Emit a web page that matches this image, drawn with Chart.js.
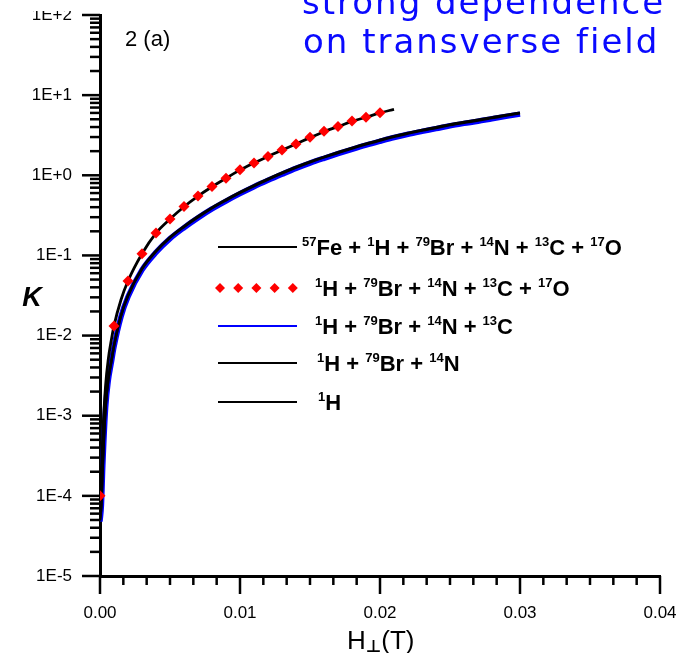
<!DOCTYPE html>
<html>
<head>
<meta charset="utf-8">
<script src="https://cdn.jsdelivr.net/npm/chart.js@4/dist/chart.umd.min.js"></script>
<style>
html,body{margin:0;padding:0;background:#fff;}
canvas{display:block;}
</style>
</head>
<body>
<canvas id="c" width="689" height="653"></canvas>
<script>
// ---------------- data ----------------
const xTickValues = [0, 0.01, 0.02, 0.03, 0.04];
const yTickValues = [1e-5, 1e-4, 1e-3, 1e-2, 1e-1, 1e0, 1e1, 1e2];
const yTickLabels = ['1E-5', '1E-4', '1E-3', '1E-2', '1E-1', '1E+0', '1E+1', '1E+2'];

// 57Fe + 1H + 79Br + 14N + 13C + 17O (black line)
const hFe = [0, 0.0001, 0.0002, 0.0004, 0.0006, 0.0008, 0.001, 0.0015, 0.002, 0.003, 0.004, 0.005, 0.006, 0.007,
  0.008, 0.009, 0.010, 0.011, 0.012, 0.013, 0.014, 0.015, 0.016, 0.017, 0.018, 0.019, 0.020, 0.021];
const kFe = [1.0e-4, 2.2e-4, 6.0e-4, 2.4e-3, 5.2e-3, 8.6e-3, 0.0132, 0.028, 0.048, 0.105, 0.19, 0.284, 0.405, 0.55,
  0.72, 0.92, 1.16, 1.42, 1.72, 2.06, 2.46, 2.95, 3.50, 4.05, 4.70, 5.30, 6.00, 6.65];

// 1H + 79Br + 14N + 13C + 17O (red diamonds)
const hRed = [0, 0.001, 0.002, 0.003, 0.004, 0.005, 0.006, 0.007, 0.008, 0.009, 0.010,
  0.011, 0.012, 0.013, 0.014, 0.015, 0.016, 0.017, 0.018, 0.019, 0.020];
const kRed = [1.0e-4, 0.0132, 0.048, 0.105, 0.19, 0.284, 0.407, 0.553, 0.723, 0.92, 1.17,
  1.42, 1.71, 2.07, 2.46, 2.99, 3.55, 4.05, 4.77, 5.30, 6.05];

// shared H grid for the three lower curves
const hLow = [0, 0.0001, 0.0002, 0.0004, 0.0006, 0.0008, 0.001, 0.0015, 0.002, 0.003, 0.004, 0.005, 0.006, 0.007,
  0.008, 0.009, 0.010, 0.011, 0.012, 0.013, 0.014, 0.015, 0.016, 0.017, 0.018, 0.019, 0.020,
  0.021, 0.022, 0.023, 0.024, 0.025, 0.026, 0.027, 0.028, 0.029, 0.030];
// 1H + 79Br + 14N + 13C (blue)
const kBlue = [4.8e-5, 7.6e-5, 2.4e-4, 1.25e-3, 2.8e-3, 4.5e-3, 7.2e-3, 0.0172, 0.0305, 0.066, 0.109, 0.162, 0.222, 0.294,
  0.38, 0.477, 0.59, 0.72, 0.865, 1.03, 1.22, 1.42, 1.63, 1.86, 2.11, 2.38, 2.66,
  2.96, 3.25, 3.53, 3.82, 4.15, 4.44, 4.72, 5.07, 5.43, 5.80];
// 1H + 79Br + 14N (black)
const kBrN = [5.0e-5, 8.0e-5, 2.5e-4, 1.3e-3, 2.9e-3, 4.7e-3, 7.5e-3, 0.0179, 0.0318, 0.069, 0.114, 0.169, 0.232, 0.307,
  0.396, 0.497, 0.615, 0.75, 0.90, 1.075, 1.27, 1.48, 1.70, 1.94, 2.20, 2.48, 2.77,
  3.08, 3.38, 3.68, 3.98, 4.32, 4.62, 4.92, 5.28, 5.66, 6.05];
// 1H (black)
const kH = [4.9e-5, 7.8e-5, 2.45e-4, 1.27e-3, 2.85e-3, 4.6e-3, 7.35e-3, 0.0176, 0.0312, 0.0677, 0.112, 0.166, 0.227, 0.30,
  0.388, 0.487, 0.603, 0.735, 0.885, 1.055, 1.245, 1.45, 1.67, 1.90, 2.16, 2.43, 2.71,
  3.02, 3.31, 3.61, 3.90, 4.23, 4.53, 4.82, 5.17, 5.55, 5.93];

const legendRows = [
  {style: 'line', color: '#000', parts: [['57', 1], ['Fe + ', 0], ['1', 1], ['H + ', 0], ['79', 1], ['Br + ', 0], ['14', 1], ['N + ', 0], ['13', 1], ['C + ', 0], ['17', 1], ['O', 0]]},
  {style: 'diamonds', color: '#ff0000', parts: [['1', 1], ['H + ', 0], ['79', 1], ['Br + ', 0], ['14', 1], ['N + ', 0], ['13', 1], ['C + ', 0], ['17', 1], ['O', 0]]},
  {style: 'line', color: '#0000ff', parts: [['1', 1], ['H + ', 0], ['79', 1], ['Br + ', 0], ['14', 1], ['N + ', 0], ['13', 1], ['C', 0]]},
  {style: 'line', color: '#000', parts: [['1', 1], ['H + ', 0], ['79', 1], ['Br + ', 0], ['14', 1], ['N', 0]]},
  {style: 'line', color: '#000', parts: [['1', 1], ['H', 0]]}
];

const pts = (xs, ys) => xs.map((x, i) => ({x: x, y: ys[i]}));
const FONT = '"Liberation Sans", Arial, Helvetica, sans-serif';

const decor = {
  id: 'decor',
  afterDraw(chart) {
    const ctx = chart.ctx;
    const xs = chart.scales.x, ys = chart.scales.y;
    const {left, right, top, bottom} = chart.chartArea;
    ctx.save();
    ctx.strokeStyle = '#000';
    ctx.lineWidth = 2.5;
    ctx.lineCap = 'butt';
    const seg = (x1, y1, x2, y2) => { ctx.beginPath(); ctx.moveTo(x1, y1); ctx.lineTo(x2, y2); ctx.stroke(); };
    // x ticks: majors every 0.01, 5 minors between
    for (let i = 0; i < xTickValues.length - 1; i++) {
      const a = xTickValues[i], b = xTickValues[i + 1];
      for (let k = 0; k < 6; k++) {
        const px = xs.getPixelForValue(a + (b - a) * k / 6);
        seg(px, bottom, px, bottom + (k === 0 ? 18 : 9));
      }
    }
    const lastX = xs.getPixelForValue(xTickValues[xTickValues.length - 1]);
    seg(lastX, bottom, lastX, bottom + 18);
    // y ticks: decades + log minors
    yTickValues.forEach((v, i) => {
      const py = ys.getPixelForValue(v);
      seg(left - 18, py, left, py);
      if (i < yTickValues.length - 1) {
        for (let m = 2; m <= 9; m++) {
          const pm = ys.getPixelForValue(v * m);
          seg(left - 10, pm, left, pm);
        }
      }
    });

    // white box of the overlaid text (crops top)
    ctx.fillStyle = '#fff';
    ctx.fillRect(0, 0, 689, 11);

    // panel label
    ctx.fillStyle = '#000';
    ctx.textBaseline = 'alphabetic';
    ctx.textAlign = 'left';
    ctx.font = '22px ' + FONT;
    ctx.fillText('2 (a)', 125, 46);

    // y title
    ctx.font = 'italic bold 27px ' + FONT;
    ctx.textAlign = 'center';
    ctx.fillText('K', 32, 306);

    // x title  H⊥(T)
    ctx.textAlign = 'left';
    ctx.font = '26px ' + FONT;
    let tx = 347;
    ctx.fillText('H', tx, 649); tx += ctx.measureText('H').width;
    ctx.font = 'bold 17px "DejaVu Sans", sans-serif';
    ctx.fillText('\u22A5', tx, 652); tx += ctx.measureText('\u22A5').width;
    ctx.font = '26px ' + FONT;
    ctx.fillText('(T)', tx, 649);

    // blue annotation
    ctx.fillStyle = '#0a0aff';
    ctx.font = '34px "DejaVu Sans", Verdana, sans-serif';
    try { ctx.letterSpacing = '2px'; } catch (e) {}
    ctx.fillText('strong dependence', 302, 14);
    ctx.fillText('on transverse field', 303, 53);
    try { ctx.letterSpacing = '0px'; } catch (e) {}

    // legend
    const rowY = [247, 288, 326, 363, 402];
    const textX = [302, 315, 315, 317, 318];
    legendRows.forEach((row, r) => {
      const y = rowY[r];
      if (row.style === 'line') {
        ctx.strokeStyle = row.color;
        ctx.lineWidth = 2;
        seg(218, y, 297, y);
      } else {
        ctx.fillStyle = row.color;
        for (let k = 0; k < 5; k++) {
          const cx = 220 + k * 18.2, rr = 5;
          ctx.beginPath();
          ctx.moveTo(cx - rr, y); ctx.lineTo(cx, y - rr); ctx.lineTo(cx + rr, y); ctx.lineTo(cx, y + rr);
          ctx.closePath(); ctx.fill();
        }
      }
      ctx.fillStyle = '#000';
      let x = textX[r];
      const base = y + 8;
      row.parts.forEach(([t, sup]) => {
        if (sup) {
          ctx.font = 'bold 13px ' + FONT;
          ctx.fillText(t, x, base - 9);
        } else {
          ctx.font = 'bold 22px ' + FONT;
          ctx.fillText(t, x, base);
        }
        x += ctx.measureText(t).width;
      });
    });
    ctx.restore();
  }
};

new Chart(document.getElementById('c'), {
  type: 'line',
  data: {
    datasets: [
      {label: '1H + 79Br + 14N + 13C + 17O', data: pts(hRed, kRed), showLine: false,
        pointStyle: 'rectRot', pointRadius: 5.5, pointBackgroundColor: '#ff0000', pointBorderWidth: 0, borderColor: '#ff0000'},
      {label: '57Fe + 1H + 79Br + 14N + 13C + 17O', data: pts(hFe, kFe), borderColor: '#000', borderWidth: 2.8,
        pointRadius: 0, cubicInterpolationMode: 'monotone'},
      {label: '1H + 79Br + 14N', data: pts(hLow, kBrN), borderColor: '#000', borderWidth: 2.5,
        pointRadius: 0, cubicInterpolationMode: 'monotone'},
      {label: '1H', data: pts(hLow, kH), borderColor: '#000', borderWidth: 2.5,
        pointRadius: 0, cubicInterpolationMode: 'monotone'},
      {label: '1H + 79Br + 14N + 13C', data: pts(hLow, kBlue), borderColor: '#0000ff', borderWidth: 5.5,
        pointRadius: 0, cubicInterpolationMode: 'monotone'}
    ]
  },
  options: {
    responsive: false,
    animation: false,
    devicePixelRatio: 1,
    layout: {padding: {top: 15, right: 29, left: 0, bottom: 0}},
    plugins: {legend: {display: false}, tooltip: {enabled: false}},
    scales: {
      x: {
        type: 'linear', min: 0, max: 0.04,
        afterBuildTicks: s => { s.ticks = xTickValues.map(v => ({value: v})); },
        afterFit: s => { s.height = 77; s.paddingLeft = 0; s.paddingRight = 0; s.paddingTop = 0; s.paddingBottom = 0; },
        grid: {display: false, drawTicks: false},
        border: {display: true, color: '#000', width: 3},
        ticks: {padding: 27, color: '#000', font: {family: FONT, size: 17},
          callback: v => Number(v).toFixed(2), maxRotation: 0, autoSkip: false}
      },
      y: {
        type: 'logarithmic', min: 1e-5, max: 100,
        afterBuildTicks: s => { s.ticks = yTickValues.map(v => ({value: v})); },
        afterFit: s => { s.width = 100; s.paddingLeft = 0; s.paddingRight = 0; s.paddingTop = 0; s.paddingBottom = 0; },
        grid: {display: false, drawTicks: false},
        border: {display: true, color: '#000', width: 3},
        ticks: {padding: 28, color: '#000', font: {family: FONT, size: 17},
          callback: v => yTickLabels[yTickValues.findIndex(t => Math.abs(Math.log10(t) - Math.log10(v)) < 1e-6)], autoSkip: false}
      }
    }
  },
  plugins: [decor]
});
</script>
</body>
</html>
